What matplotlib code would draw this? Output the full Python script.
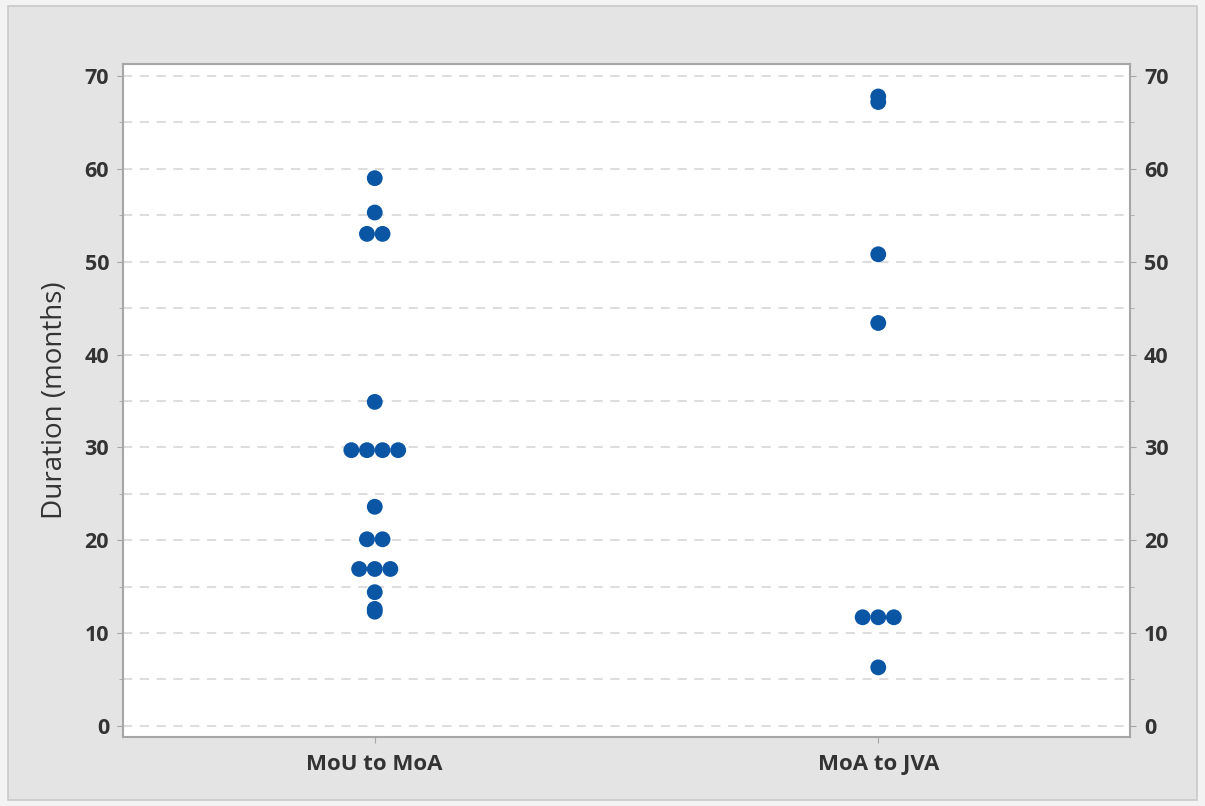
import matplotlib
matplotlib.use("Agg")
import matplotlib.pyplot as plt
from matplotlib.patches import Rectangle
import numpy as np

# 数据：两组持续时间（月）
CATEGORIES = ["MoU to MoA", "MoA to JVA"]
MOU_TO_MOA = [59.0, 55.3, 53.0, 53.0, 34.9, 29.7, 29.7, 29.7, 29.7, 23.6,
              20.1, 20.1, 16.9, 16.9, 16.9, 14.4, 12.6, 12.3]
MOA_TO_JVA = [67.8, 67.2, 50.8, 43.4, 11.7, 11.7, 11.7, 6.3]
SERIES = [MOU_TO_MOA, MOA_TO_JVA]

Y_MAJOR = np.arange(0, 71, 10)
Y_MINOR = np.arange(5, 70, 10)

DOT_COLOR = "#0B55A5"
SPINE_GRAY = "#A6A6A6"
GRID_GRAY = "#D3D3D3"
TEXT_COLOR = "#333333"
TIE_STEP = 0.031          # 相同数值的点水平错开（类似 Minitab individual value plot）

plt.rcParams["font.family"] = ["Open Sans", "DejaVu Sans"]

fig = plt.figure(figsize=(12.05, 8.06), dpi=100)
fig.patch.set_facecolor("#F3F3F3")
fig.patches.append(Rectangle((8 / 1205, 6 / 806), 1189 / 1205, 794 / 806,
                             transform=fig.transFigure, facecolor="#E4E4E4",
                             edgecolor="#C9C9C9", linewidth=1.2, zorder=-10))

ax = fig.add_axes([123 / 1205, 1 - 737 / 806, 1007 / 1205, 673 / 806])
ax.set_facecolor("white")

for i, vals in enumerate(SERIES, start=1):
    vals = np.asarray(vals)
    xs = np.empty_like(vals)
    for v in np.unique(vals):
        idx = np.where(vals == v)[0]
        n = len(idx)
        xs[idx] = i + (np.arange(n) - (n - 1) / 2) * TIE_STEP
    ax.scatter(xs, vals, s=130, color=DOT_COLOR, edgecolors="none", zorder=3)

ax.set_xlim(0.5, 2.5)
ax.set_ylim(-1.2, 71.3)
ax.set_xticks([1, 2])
ax.set_xticklabels(CATEGORIES)
ax.set_yticks(Y_MAJOR)
ax.set_yticks(Y_MINOR, minor=True)

for y in np.concatenate([Y_MAJOR, Y_MINOR]):
    ax.axhline(y, color=GRID_GRAY, linestyle=(0, (6, 5)), linewidth=1.1, zorder=1)

for side in ax.spines.values():
    side.set_color(SPINE_GRAY)
    side.set_linewidth(1.5)

ax.tick_params(axis="y", which="both", left=True, right=True, labelleft=True,
               labelright=True, color=SPINE_GRAY, labelcolor=TEXT_COLOR,
               labelsize=15.5, pad=6)
ax.tick_params(axis="y", which="major", length=4)
ax.tick_params(axis="y", which="minor", length=3)
ax.tick_params(axis="x", color=SPINE_GRAY, length=4, labelcolor=TEXT_COLOR,
               labelsize=16, pad=8)
for lab in ax.get_xticklabels() + ax.get_yticklabels():
    lab.set_fontweight("bold")
for lab in ax.yaxis.get_ticklabels(which="major"):
    lab.set_fontweight("bold")

ax.set_ylabel("Duration (months)", fontsize=20, color=TEXT_COLOR, labelpad=11)

fig.savefig("out.png", dpi=100, facecolor=fig.get_facecolor())
